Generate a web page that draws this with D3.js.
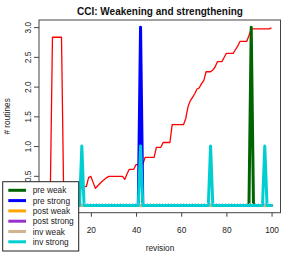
<!DOCTYPE html>
<html><head><meta charset="utf-8">
<script src="https://cdn.jsdelivr.net/npm/d3@7"></script>
<style>body{margin:0;background:#fff}svg{display:block;font-family:"Liberation Sans",Arial,sans-serif}</style>
</head><body>
<svg id="c" width="294" height="254"></svg>
<script>
const revisions = d3.range(1, 101);
const cciRatio = [
0.09,0.09,2.83,2.83,2.83,2.83,2.83,0.09,0.09,0.09,
0.09,0.09,0.09,0.14,0.23,0.32,0.32,0.32,0.47,0.49,
0.39,0.29,0.33,0.37,0.41,0.44,0.47,0.49,0.49,0.49,
0.49,0.49,0.49,0.49,0.44,0.53,0.61,0.61,0.61,0.69,
0.69,0.69,0.69,0.81,0.81,0.81,0.81,0.81,0.98,0.98,
0.98,1.06,1.06,1.06,1.06,1.36,1.36,1.36,1.36,1.36,
1.36,1.46,1.66,1.76,1.82,1.88,1.96,1.98,2.05,2.10,
2.25,2.25,2.25,2.28,2.33,2.42,2.42,2.42,2.49,2.56,
2.56,2.56,2.56,2.62,2.68,2.76,2.76,2.76,2.76,2.86,
2.97,2.97,2.97,2.97,2.97,2.97,2.97,2.97,2.97,2.99];
const preWeak = [
0,0,0,0,0,0,0,0,0,0, 0,0,0,0,0,0,0,0,0,0, 0,0,0,0,0,0,0,0,0,0,
0,0,0,0,0,0,0,0,0,0, 0,0,0,0,0,0,0,0,0,0, 0,0,0,0,0,0,0,0,0,0,
0,0,0,0,0,0,0,0,0,0, 0,0,0,0,0,0,0,0,0,0, 0,0,0,0,0,0,0,0,0,0,
3,0,0,0,0,0,0,0,0,0];
const preStrong = [
0,0,0,0,0,0,0,0,0,0, 0,0,0,0,0,0,0,0,0,0, 0,0,0,0,0,0,0,0,0,0,
0,0,0,0,0,0,0,0,0,0, 0,3,0,0,0,0,0,0,0,0, 0,0,0,0,0,0,0,0,0,0,
0,0,0,0,0,0,0,0,0,0, 0,0,0,0,0,0,0,0,0,0, 0,0,0,0,0,0,0,0,0,0,
0,0,0,0,0,0,0,0,0,0];
const postWeak = [
0,0,0,0,0,0,0,0,0,0, 0,0,0,0,0,0,0,0,0,0, 0,0,0,0,0,0,0,0,0,0,
0,0,0,0,0,0,0,0,0,0, 0,0,0,0,0,0,0,0,0,0, 0,0,0,0,0,0,0,0,0,0,
0,0,0,0,0,0,0,0,0,0, 0,0,0,0,0,0,0,0,0,0, 0,0,0,0,0,0,0,0,0,0,
0,0,0,0,0,0,0,0,0,0];
const postStrong = [
0,0,0,0,0,0,0,0,0,0, 0,0,0,0,0,0,0,0,0,0, 0,0,0,0,0,0,0,0,0,0,
0,0,0,0,0,0,0,0,0,0, 0,0,0,0,0,0,0,0,0,0, 0,0,0,0,0,0,0,0,0,0,
0,0,0,0,0,0,0,0,0,0, 0,0,0,0,0,0,0,0,0,0, 0,0,0,0,0,0,0,0,0,0,
0,0,0,0,0,0,0,0,0,0];
const invWeak = [
0,0,0,0,0,0,0,0,0,0, 0,0,0,0,0,0,0,0,0,0, 0,0,0,0,0,0,0,0,0,0,
0,0,0,0,0,0,0,0,0,0, 0,0,0,0,0,0,0,0,0,0, 0,0,0,0,0,0,0,0,0,0,
0,0,0,0,0,0,0,0,0,0, 0,0,0,0,0,0,0,0,0,0, 0,0,0,0,0,0,0,0,0,0,
0,0,0,0,0,0,0,0,0,0];
const invStrong = [
0,0,0,0,0,0,0,0,0,0, 0,0,0,0,0,1,0,0,0,0, 0,0,0,0,0,0,0,0,0,0,
0,0,0,0,0,0,0,0,0,0, 0,1,0,0,0,0,0,0,0,0, 0,0,0,0,0,0,0,0,0,0,
0,0,0,0,0,0,0,0,0,0, 0,0,1,0,0,0,0,0,0,0, 0,0,0,0,0,0,0,0,0,0,
0,0,0,0,0,0,1,0,0,0];
const seriesNames = ["pre weak","pre strong","post weak","post strong","inv weak","inv strong"];
const seriesColors = ["#006400","#0000ff","#ffa500","#9932cc","#d2b48c","#00ced1"];
const seriesValues = [preWeak, preStrong, postWeak, postStrong, invWeak, invStrong];
const xTicks = [20,40,60,80,100];
const yTicks = [0,0.5,1,1.5,2,2.5,3];

const svg = d3.select("#c");
const L=39, R=280.5, T=20, B=212.7;
const x = d3.scaleLinear().domain([1-0.04*99, 100+0.04*99]).range([L,R]);
const y = d3.scaleLinear().domain([-0.12, 3.12]).range([B,T]);
const fs = 8.3;

// red line
const line = d3.line().x((d,i)=>x(revisions[i])).y(d=>y(d));
svg.append("path").attr("d", line(cciRatio)).attr("fill","none")
  .attr("stroke","#ff0000").attr("stroke-width",1.3).attr("stroke-linejoin","round");

seriesValues.forEach((vals,k)=>{
  svg.append("path").attr("d", line(vals)).attr("fill","none")
    .attr("stroke", seriesColors[k]).attr("stroke-width",3)
    .attr("stroke-linejoin","round").attr("stroke-linecap","round");
});
// faint dotted edge along baseline
svg.append("line").attr("x1",x(1)).attr("x2",x(100)).attr("y1",y(0)-2).attr("y2",y(0)-2)
  .attr("stroke","#9cc9e0").attr("stroke-width",1).attr("stroke-dasharray","1,2");

// box
svg.append("rect").attr("x",L).attr("y",T).attr("width",R-L).attr("height",B-T)
  .attr("fill","none").attr("stroke","#444").attr("stroke-width",1);

// axes
const xa = svg.append("g").attr("transform",`translate(0,${B})`)
  .call(d3.axisBottom(x).tickValues(xTicks).tickSize(4).tickPadding(2).tickFormat(d3.format("d")));
xa.select(".domain").remove();
xa.selectAll("line").attr("stroke","#444");
xa.selectAll("text").attr("font-size",fs).attr("fill","#222").attr("font-family","Liberation Sans, Arial").attr("dy",null).attr("y",20.5);

const ya = svg.append("g").attr("transform",`translate(${L},0)`)
  .call(d3.axisLeft(y).tickValues(yTicks).tickSize(5).tickFormat(d3.format(".1f")));
ya.select(".domain").remove();
ya.selectAll("line").attr("stroke","#444");
ya.selectAll("text").attr("font-size",fs).attr("fill","#222").attr("font-family","Liberation Sans, Arial")
  .attr("x",null).attr("dy",null).attr("text-anchor","middle")
  .attr("transform","translate(-8,0) rotate(-90)");

// labels
svg.append("text").attr("x",160).attr("y",14.5).attr("text-anchor","middle")
  .attr("font-size",10).attr("font-weight","bold").attr("fill","#111").text("CCI: Weakening and strengthening");
svg.append("text").attr("x",160).attr("y",251).attr("text-anchor","middle")
  .attr("font-size",fs).attr("fill","#222").text("revision");
svg.append("text").attr("transform",`translate(10,${(T+B)/2}) rotate(-90)`).attr("text-anchor","middle")
  .attr("font-size",fs).attr("fill","#222").text("# routines");

// legend
const lg = svg.append("g");
lg.append("rect").attr("x",2.7).attr("y",181.7).attr("width",76).attr("height",69.3)
  .attr("fill","#fff").attr("stroke","#222").attr("stroke-width",1);
seriesNames.forEach((n,i)=>{
  const yy = 190.3 + i*10.3;
  lg.append("line").attr("x1",8.3).attr("x2",26).attr("y1",yy).attr("y2",yy)
    .attr("stroke",seriesColors[i]).attr("stroke-width",3);
  lg.append("text").attr("x",32.7).attr("y",yy+3).attr("font-size",fs).attr("fill","#222").text(n);
});
</script>
</body></html>
